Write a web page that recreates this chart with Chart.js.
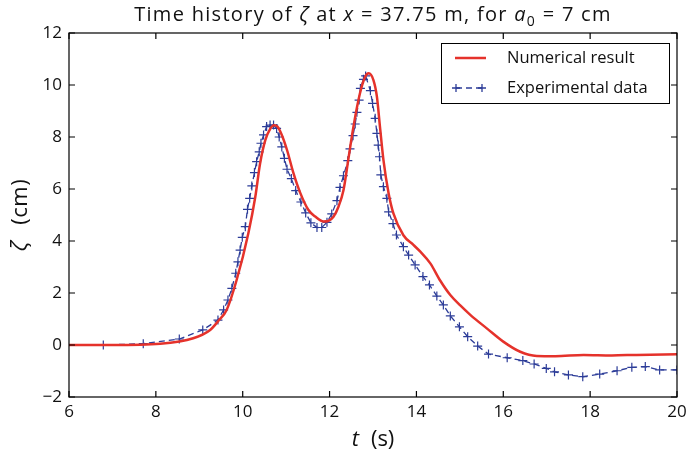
<!DOCTYPE html>
<html>
<head>
<meta charset="utf-8">
<script src="https://cdn.jsdelivr.net/npm/chart.js@4/dist/chart.umd.min.js"></script>
<style>
  html, body { margin: 0; padding: 0; background: #fff; }
  #wrap { width: 687px; height: 457px; }
</style>
</head>
<body>
<div id="wrap"><canvas id="zeta_x3775"></canvas></div>
<script>
// numerical result (red line)
const numTime = [6.0, 7.0, 8.1, 8.86, 9.25, 9.45, 9.63, 9.86, 10.13, 10.29, 10.40, 10.52, 10.63, 10.72, 10.80, 10.90,
  11.02, 11.17, 11.32, 11.51, 11.67, 11.86, 11.97, 12.09, 12.20, 12.32, 12.43, 12.55, 12.70, 12.82, 12.90, 13.01,
  13.09, 13.16, 13.24, 13.36, 13.47, 13.70, 13.93, 14.09, 14.32, 14.55, 14.78, 15.01, 15.24, 15.62, 16.0, 16.39,
  16.77, 17.2, 17.85, 18.5, 19.07, 20.0];
const numZeta = [0.0, 0.0, 0.05, 0.26, 0.58, 0.95, 1.35, 2.5, 4.3, 5.7, 6.98, 7.88, 8.30, 8.45, 8.40, 8.08,
  7.5, 6.6, 5.87, 5.2, 4.94, 4.75, 4.77, 4.93, 5.3, 5.95, 7.12, 8.4, 9.68, 10.32, 10.45, 10.19,
  9.55, 8.4, 7.12, 5.83, 5.06, 4.22, 3.85, 3.59, 3.14, 2.47, 1.92, 1.52, 1.16, 0.64, 0.13, -0.26,
  -0.42, -0.43, -0.38, -0.40, -0.38, -0.36];

// experimental data (blue dashed, + markers)
const expTime = [6.0, 6.79, 7.71, 8.54, 9.08, 9.43, 9.56, 9.66, 9.75, 9.84, 9.89, 9.94, 9.99, 10.06, 10.11, 10.16,
  10.21, 10.27, 10.32, 10.38, 10.42, 10.48, 10.55, 10.63, 10.71, 10.78, 10.84, 10.90, 10.96, 11.02, 11.12, 11.22,
  11.34, 11.45, 11.57, 11.71, 11.82, 11.94, 12.05, 12.17, 12.24, 12.32, 12.42, 12.47, 12.54, 12.59, 12.63, 12.68,
  12.71, 12.78, 12.83, 12.94, 12.99, 13.05, 13.09, 13.12, 13.15, 13.18, 13.24, 13.32, 13.36, 13.46, 13.54, 13.70,
  13.82, 13.97, 14.15, 14.30, 14.47, 14.62, 14.78, 14.99, 15.18, 15.41, 15.66, 16.09, 16.45, 16.71, 16.99, 17.18,
  17.50, 17.83, 18.22, 18.62, 18.96, 19.27, 19.60, 20.0];
const expZeta = [0.0, 0.0, 0.05, 0.23, 0.58, 0.96, 1.35, 1.73, 2.18, 2.76, 3.20, 3.65, 4.14, 4.55, 5.22, 5.64,
  6.12, 6.63, 7.05, 7.43, 7.76, 8.08, 8.40, 8.46, 8.46, 8.33, 8.0, 7.62, 7.18, 6.76, 6.40, 5.94,
  5.50, 5.08, 4.70, 4.52, 4.52, 4.72, 5.04, 5.55, 6.06, 6.51, 7.09, 7.54, 8.05, 8.50, 8.95, 9.42,
  9.87, 10.22, 10.35, 9.78, 9.29, 8.72, 8.14, 7.69, 7.24, 6.54, 6.09, 5.64, 5.12, 4.67, 4.23, 3.78,
  3.46, 3.08, 2.63, 2.31, 1.88, 1.54, 1.12, 0.70, 0.32, -0.04, -0.35, -0.49, -0.60, -0.73, -0.90, -1.03,
  -1.15, -1.22, -1.12, -0.99, -0.86, -0.83, -0.96, -0.96];

const xTicks = [6, 8, 10, 12, 14, 16, 18, 20];
const yTicks = [-2, 0, 2, 4, 6, 8, 10, 12];

const FONT = '"Open Sans", Lato, sans-serif';
const RED = '#e5322b';
const BLUE = '#2c3c98';

// draw runs of [text, italic, sub, gapAfter] pieces
function drawPieces(ctx, pieces, x, y, size, spacing) {
  const fontOf = p => (p[1] ? 'italic ' : '') + (p[2] ? Math.round(size * 0.7) : size) + 'px ' + FONT;
  ctx.letterSpacing = spacing + 'px';
  const widthOf = p => { ctx.font = fontOf(p); return ctx.measureText(p[0]).width + (p[3] || 0); };
  let total = 0;
  pieces.forEach(p => { total += widthOf(p); });
  let cx = x - total / 2;
  ctx.textAlign = 'left';
  ctx.textBaseline = 'alphabetic';
  pieces.forEach(p => {
    ctx.font = fontOf(p);
    ctx.fillText(p[0], cx, y + (p[2] ? size * 0.25 : 0));
    cx += widthOf(p);
  });
  ctx.letterSpacing = '0px';
}

const decorations = {
  id: 'decorations',
  afterDatasetsDraw(chart) {
    const { ctx, chartArea: a, scales: { x, y } } = chart;
    ctx.save();
    // frame + inward ticks on all four sides
    ctx.strokeStyle = '#000';
    ctx.lineWidth = 1.2;
    ctx.strokeRect(a.left, a.top, a.right - a.left, a.bottom - a.top);
    ctx.beginPath();
    xTicks.forEach(v => {
      const px = x.getPixelForValue(v);
      ctx.moveTo(px, a.bottom); ctx.lineTo(px, a.bottom - 6);
      ctx.moveTo(px, a.top); ctx.lineTo(px, a.top + 6);
    });
    yTicks.forEach(v => {
      const py = y.getPixelForValue(v);
      ctx.moveTo(a.left, py); ctx.lineTo(a.left + 6, py);
      ctx.moveTo(a.right, py); ctx.lineTo(a.right - 6, py);
    });
    ctx.stroke();

    ctx.fillStyle = '#111';
    const midX = (a.left + a.right) / 2;
    // title
    drawPieces(ctx, [['Time history of '], ['\u03B6', true], [' at '], ['x', true], [' = 37.75 m, for '],
      ['a', true], ['0', false, true], [' = 7 cm']], midX, 21, 20, 1.3);
    // x label
    drawPieces(ctx, [['t', true, false, 12], ['(s)']], midX, 446, 22, 0);
    // y label
    ctx.save();
    ctx.translate(27, (a.top + a.bottom) / 2);
    ctx.rotate(-Math.PI / 2);
    drawPieces(ctx, [['\u03B6', true, false, 16], ['(cm)']], 0, 0, 22, 0.5);
    ctx.restore();

    // legend
    const lw = 228, lh = 60, lx = a.right - 8 - lw, ly = a.top + 10;
    ctx.fillStyle = '#fff';
    ctx.fillRect(lx, ly, lw, lh);
    ctx.lineWidth = 1;
    ctx.strokeStyle = '#000';
    ctx.strokeRect(lx + 0.5, ly + 0.5, lw, lh);
    const r1 = ly + 15, r2 = ly + 45, sx = lx + 14;
    ctx.strokeStyle = RED; ctx.lineWidth = 2.5;
    ctx.beginPath(); ctx.moveTo(sx, r1); ctx.lineTo(sx + 31, r1); ctx.stroke();
    ctx.strokeStyle = BLUE; ctx.lineWidth = 1.3;
    ctx.setLineDash([6, 4]);
    ctx.beginPath(); ctx.moveTo(sx + 1, r2); ctx.lineTo(sx + 27, r2); ctx.stroke();
    ctx.setLineDash([]);
    ctx.beginPath();
    [sx + 1, sx + 27].forEach(cx => { ctx.moveTo(cx - 4, r2); ctx.lineTo(cx + 4, r2); ctx.moveTo(cx, r2 - 4); ctx.lineTo(cx, r2 + 4); });
    ctx.stroke();
    ctx.fillStyle = '#111';
    ctx.font = '16.5px ' + FONT;
    ctx.textAlign = 'left';
    ctx.textBaseline = 'middle';
    ctx.fillText('Numerical result', lx + 66, r1);
    ctx.fillText('Experimental data', lx + 66, r2);
    ctx.restore();
  }
};

const data_zeta = {
  datasets: [
    {
      label: 'Numerical result',
      data: numTime.map((t, i) => ({ x: t, y: numZeta[i] })),
      borderColor: RED,
      backgroundColor: RED,
      borderWidth: 2.5,
      pointRadius: 0,
      cubicInterpolationMode: 'monotone',
      clip: 0,
      order: 1,
    },
    {
      label: 'Experimental data',
      data: expTime.map((t, i) => ({ x: t, y: expZeta[i] })),
      borderColor: BLUE,
      backgroundColor: BLUE,
      borderWidth: 1.3,
      borderDash: [6, 4],
      pointStyle: 'cross',
      pointRadius: ctx => (ctx.dataIndex === 0 ? 0 : 4.5),
      pointBorderWidth: 1.2,
      tension: 0,
      clip: 0,
      order: 2,
    },
  ],
};

const tickLabel = v => String(v).replace('-', '\u2212');

const config_zeta = {
  type: 'line',
  data: data_zeta,
  options: {
    responsive: true,
    maintainAspectRatio: false,
    animation: false,
    layout: { padding: { left: 0, right: 10, top: 33, bottom: 0 } },
    scales: {
      x: {
        type: 'linear',
        min: 6,
        max: 20,
        afterBuildTicks: s => { s.ticks = xTicks.map(v => ({ value: v })); },
        afterFit: s => { s.height = 60; s.paddingLeft = 0; s.paddingRight = 0; },
        grid: { display: false, drawTicks: false },
        border: { display: false },
        ticks: { color: '#111', font: { family: FONT, size: 17 }, padding: 5, maxRotation: 0, callback: tickLabel },
      },
      y: {
        min: -2,
        max: 12,
        afterBuildTicks: s => { s.ticks = yTicks.map(v => ({ value: v })); },
        afterFit: s => { s.width = 69; s.paddingTop = 0; s.paddingBottom = 0; },
        grid: { display: false, drawTicks: false },
        border: { display: false },
        ticks: { color: '#111', font: { family: FONT, size: 17 }, padding: 7, callback: tickLabel },
      },
    },
    plugins: {
      legend: { display: false },
      title: { display: false },
      tooltip: { enabled: false },
    },
  },
  plugins: [decorations],
};

const zeta_x3775 = new Chart(document.getElementById('zeta_x3775'), config_zeta);
</script>
</body>
</html>
